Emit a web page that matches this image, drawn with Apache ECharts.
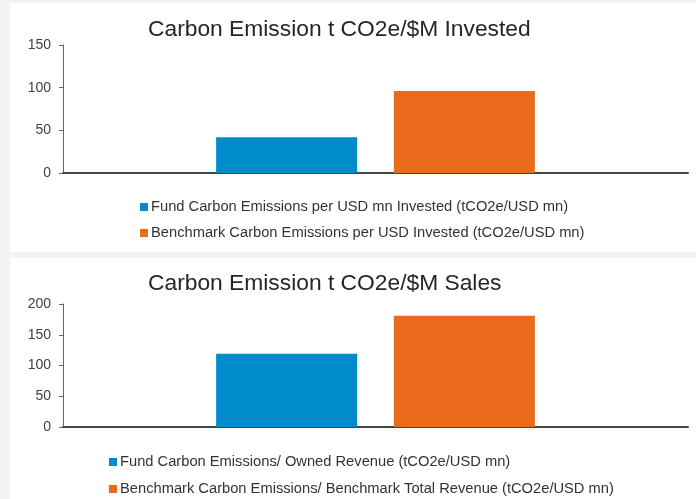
<!DOCTYPE html>
<html>
<head>
<meta charset="utf-8">
<script src="https://cdn.jsdelivr.net/npm/echarts@6/dist/echarts.min.js"></script>
<style>
html,body{margin:0;padding:0;background:#f3f3f5;}
#c{width:696px;height:499px;}
</style>
</head>
<body>
<div id="c"></div>
<script>
// ---- data ----
var titles = ['Carbon Emission t CO2e/$M Invested', 'Carbon Emission t CO2e/$M Sales'];
var categories = [''];
var topSeriesNames = ['Fund Carbon Emissions per USD mn Invested (tCO2e/USD mn)', 'Benchmark Carbon Emissions per USD Invested (tCO2e/USD mn)'];
var topFund = [42];
var topBenchmark = [96];
var bottomSeriesNames = ['Fund Carbon Emissions/ Owned Revenue (tCO2e/USD mn)', 'Benchmark Carbon Emissions/ Benchmark Total Revenue (tCO2e/USD mn)'];
var bottomFund = [119];
var bottomBenchmark = [181];
var topTicks = {min: 0, max: 150, interval: 50};
var bottomTicks = {min: 0, max: 200, interval: 50};

var BLUE = '#008BCA', ORANGE = '#E96A1A';
var FONT = '"Liberation Sans", Arial, sans-serif';

var chart = echarts.init(document.getElementById('c'), null, {renderer: 'canvas'});

function yAxis(idx, t) {
  return {
    type: 'value', gridIndex: idx, min: t.min, max: t.max, interval: t.interval,
    axisLine: {show: true, lineStyle: {color: '#666', width: 1}},
    axisTick: {show: true, length: 4, lineStyle: {color: '#666'}},
    splitLine: {show: false},
    axisLabel: {margin: 12, color: '#404040', fontSize: 14, fontFamily: FONT}
  };
}
function xAxis(idx) {
  return {
    type: 'category', gridIndex: idx, data: categories,
    axisLine: {show: true, lineStyle: {color: '#454545', width: 2}},
    axisTick: {show: false}, axisLabel: {show: false}
  };
}
function bar(name, data, color, idx) {
  return {
    type: 'bar', name: name, data: data, xAxisIndex: idx, yAxisIndex: idx,
    barGap: '26%', barCategoryGap: '49%',
    itemStyle: {color: color}, silent: true, animation: false
  };
}

chart.setOption({
  animation: false,
  backgroundColor: '#f3f3f5',
  graphic: [
    {type: 'rect', shape: {x: 10, y: 3, width: 686, height: 249}, style: {fill: '#ffffff'}, z: -10},
    {type: 'rect', shape: {x: 10, y: 258, width: 686, height: 241}, style: {fill: '#ffffff'}, z: -10}
  ],
  title: [
    {text: titles[0], left: 148, top: 18, padding: 0, textStyle: {fontSize: 22.8, fontWeight: 'normal', color: '#262626', fontFamily: FONT}},
    {text: titles[1], left: 148, top: 272, padding: 0, textStyle: {fontSize: 22.8, fontWeight: 'normal', color: '#262626', fontFamily: FONT}}
  ],
  legend: [
    {data: topSeriesNames, orient: 'vertical', left: 140, top: 199, padding: 0, itemWidth: 8, itemHeight: 8, itemGap: 10,
     icon: 'rect', selectedMode: false,
     textStyle: {fontSize: 14.7, lineHeight: 16, color: '#333', fontFamily: FONT, padding: [0, 0, 0, -2]}},
    {data: bottomSeriesNames, orient: 'vertical', left: 109, top: 454, padding: 0, itemWidth: 8, itemHeight: 8, itemGap: 11,
     icon: 'rect', selectedMode: false,
     textStyle: {fontSize: 14.7, lineHeight: 16, color: '#333', fontFamily: FONT, padding: [0, 0, 0, -2]}}
  ],
  grid: [
    {left: 63, right: 8, top: 45, height: 128},
    {left: 63, right: 8, top: 304, height: 123}
  ],
  xAxis: [xAxis(0), xAxis(1)],
  yAxis: [yAxis(0, topTicks), yAxis(1, bottomTicks)],
  series: [
    bar(topSeriesNames[0], topFund, BLUE, 0),
    bar(topSeriesNames[1], topBenchmark, ORANGE, 0),
    bar(bottomSeriesNames[0], bottomFund, BLUE, 1),
    bar(bottomSeriesNames[1], bottomBenchmark, ORANGE, 1)
  ]
});
</script>
</body>
</html>
